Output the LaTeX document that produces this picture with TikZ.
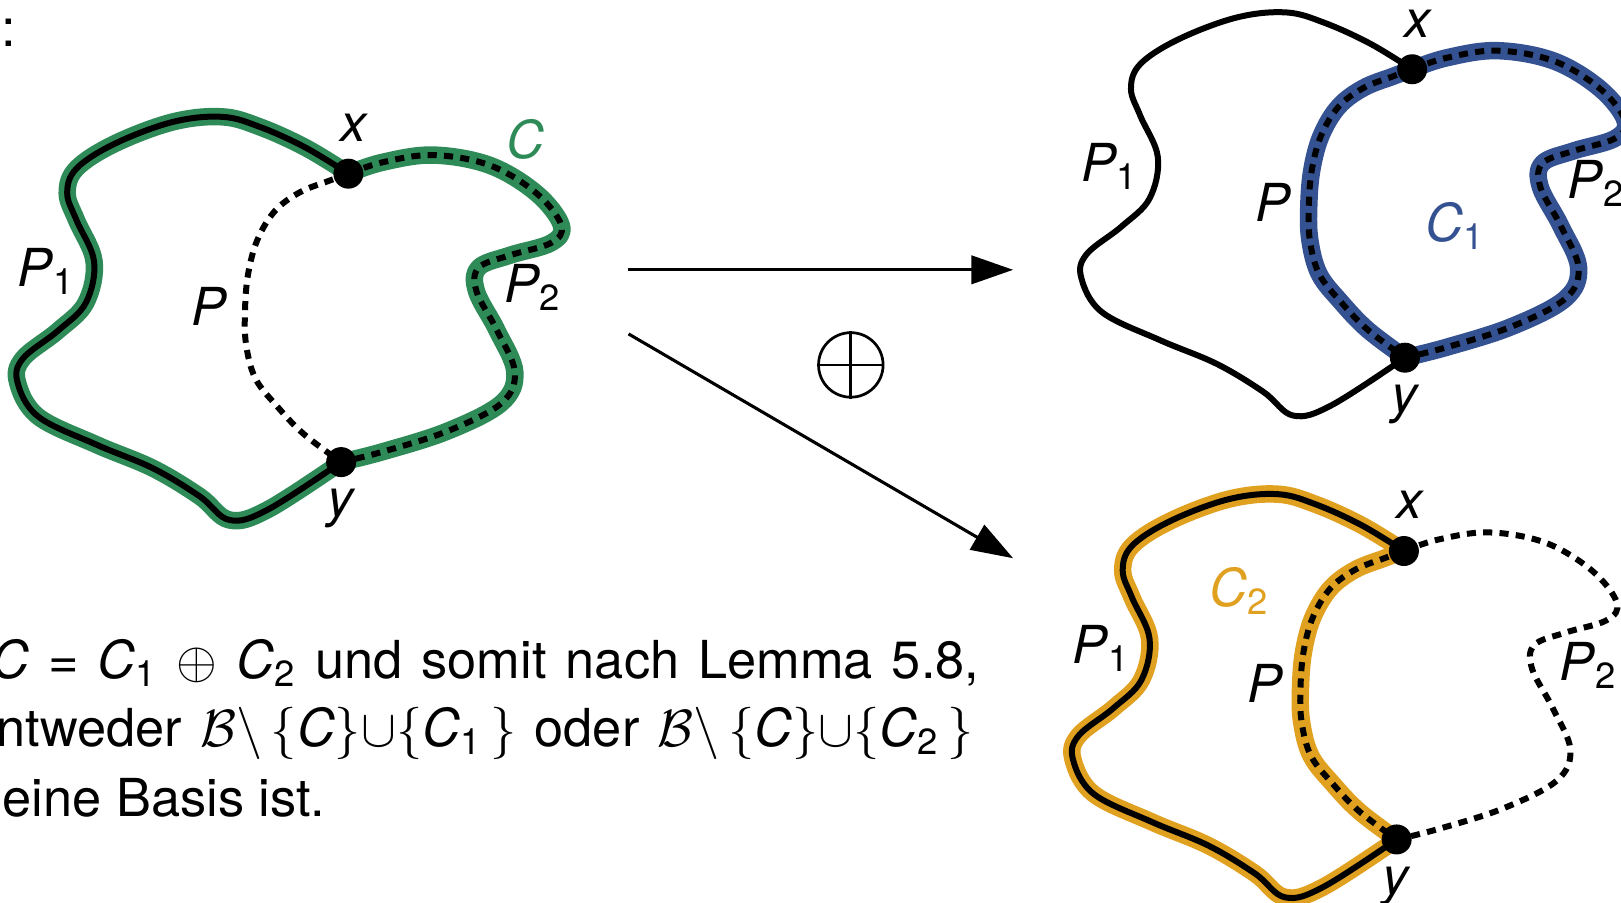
\documentclass[tikz,border=0pt]{standalone}
\usepackage{amsmath}
\usepackage{fontspec}
\setmainfont{TeX Gyre Heros}
\usetikzlibrary{arrows.meta}

\definecolor{cgreen}{RGB}{46,139,87}
\definecolor{cblue}{RGB}{52,82,145}
\definecolor{corange}{RGB}{224,160,32}

% label with upright subscript, e.g. P_1
\newcommand{\lbl}[2]{\textit{#1}\ensuremath{_{\text{#2}}}}

% the three paths between the vertices (#1) and (#2), in local coordinates
\newcommand{\pathPone}[2]{plot[smooth,tension=0.6] coordinates {(#1.center) (296,143) (252,123) (215,113) (167,118) (111,139) (74,163) (65,187) (74,213) (91,253) (83,293) (56,320) (22,347) (17,370) (37,403) (93,430) (148,453) (193,480) (222,503) (259,493) (#2.center)}}
\newcommand{\pathP}[2]{plot[smooth,tension=0.6] coordinates {(#1.center) (318,175) (290,186) (266,204) (249,232) (240,265) (237,300) (238,333) (247,366) (268,393) (294,420) (#2.center)}}
\newcommand{\pathPtwo}[2]{plot[smooth,tension=0.6] coordinates {(#1.center) (370,157) (419,150) (474,160) (519,187) (543,218) (533,235) (493,247) (463,259) (461,282) (481,320) (498,360) (485,390) (433,417) (370,437) (#2.center)}}

\tikzset{
  every node/.style={font=\fontsize{14.4pt}{17pt}\selectfont},
  hilite/.style={draw=#1, line width=4.8pt, line cap=round, line join=round},
  pline/.style={draw=black, line width=1.65pt, line join=round},
  pdash/.style={draw=black, line width=1.65pt, dash pattern=on 2.5pt off 2pt},
  vtx/.style={circle, fill=black, inner sep=0pt, minimum size=0.29cm},
  lab/.style={anchor=base west, inner sep=0pt},
  arr/.style={line width=0.85pt, -{Triangle[length=11.5pt,width=7.8pt]}},
}

\begin{document}
\begin{tikzpicture}[x=0.01cm, y=-0.01cm]
\useasboundingbox (0,0) rectangle (1568,873);
\clip (0,0) rectangle (1568,873);

% ---------- cycle C = P1 + P2 ----------
\begin{scope}
  \coordinate (xL) at (337,168);
  \coordinate (yL) at (330,447);
  \path[hilite=cgreen] \pathPone{xL}{yL};
  \path[hilite=cgreen] \pathPtwo{xL}{yL};
  \path[pline] \pathPone{xL}{yL};
  \path[pdash] \pathPtwo{xL}{yL};
  \path[pdash] \pathP{xL}{yL};
  \node[vtx] (vxL) at (xL) {};
  \node[vtx] (vyL) at (yL) {};
  \node[lab] (lxL) at (329,137) {\textit{x}};
  \node[lab] (lyL) at (316,500) {\textit{y}};
  \node[lab, text=cgreen] (lCL) at (489,153) {\textit{C}};
  \node[lab] (lP1L) at (16,277) {\lbl{P}{1}};
  \node[lab] (lPL) at (185,315) {\textit{P}};
  \node[lab] (lP2L) at (487,293) {\lbl{P}{2}};
\end{scope}

% ---------- cycle C1 = P + P2 ----------
\begin{scope}[shift={(1029,-101)}]
  \coordinate (xT) at (337,168);
  \coordinate (yT) at (330,447);
  \path[hilite=cblue] \pathP{xT}{yT};
  \path[hilite=cblue] \pathPtwo{xT}{yT};
  \path[pline] \pathPone{xT}{yT};
  \path[pdash] \pathPtwo{xT}{yT};
  \path[pdash] \pathP{xT}{yT};
  \node[vtx] (vxT) at (xT) {};
  \node[vtx] (vyT) at (yT) {};
  \node[lab] (lxT) at (329,137) {\textit{x}};
  \node[lab] (lyT) at (316,500) {\textit{y}};
  \node[lab, text=cblue] (lCT) at (349,335) {\lbl{C}{1}};
  \node[lab] (lP1T) at (16,277) {\lbl{P}{1}};
  \node[lab] (lPT) at (185,315) {\textit{P}};
  \node[lab] (lP2T) at (487,293) {\lbl{P}{2}};
\end{scope}

% ---------- cycle C2 = P1 + P ----------
\begin{scope}[shift={(1021,365)}]
  \coordinate (xB) at (337,168);
  \coordinate (yB) at (330,447);
  \path[hilite=corange] \pathPone{xB}{yB};
  \path[hilite=corange] \pathP{xB}{yB};
  \path[pline] \pathPone{xB}{yB};
  \path[pdash] \pathPtwo{xB}{yB};
  \path[pdash] \pathP{xB}{yB};
  \node[vtx] (vxB) at (xB) {};
  \node[vtx] (vyB) at (yB) {};
  \node[lab] (lxB) at (329,137) {\textit{x}};
  \node[lab] (lyB) at (316,500) {\textit{y}};
  \node[lab, text=corange] (lCB) at (148,222) {\lbl{C}{2}};
  \node[lab] (lP1B) at (16,277) {\lbl{P}{1}};
  \node[lab] (lPB) at (185,315) {\textit{P}};
  \node[lab] (lP2B) at (487,293) {\lbl{P}{2}};
\end{scope}

% ---------- arrows and the sum symbol ----------
\coordinate (a1s) at (607,261);
\coordinate (a1e) at (980,261);
\coordinate (a2s) at (608,323);
\coordinate (a2e) at (980,540);
\draw[arr] (a1s) -- (a1e);
\draw[arr] (a2s) -- (a2e);
\node[circle, draw, line width=0.75pt, minimum size=0.624cm, inner sep=0pt] (oplus) at (823,353) {};
\draw[line width=0.75pt] (oplus.north) -- (oplus.south);
\draw[line width=0.75pt] (oplus.west) -- (oplus.east);

% ---------- text (justified lines) ----------
\node[lab] (colon) at (1,45) {:};
\node[lab] (t1) at (-9,656)
  {\makebox[9.55cm][s]{\textit{C} = \lbl{C}{1} $\oplus$ \lbl{C}{2} und somit nach Lemma 5.8,}};
\node[anchor=base east, inner sep=0pt] (t2) at (943,722)
  {\makebox[9.45cm][s]{ntweder $\mathcal{B}\backslash\,\{\textit{C}\}{\cup}\{\textit{C}_{\text{1}}\,\}$ oder $\mathcal{B}\backslash\,\{\textit{C}\}{\cup}\{\textit{C}_{\text{2}}\,\}$}};
\node[lab] (t3) at (2,790) {eine Basis ist.};
\end{tikzpicture}
\end{document}
